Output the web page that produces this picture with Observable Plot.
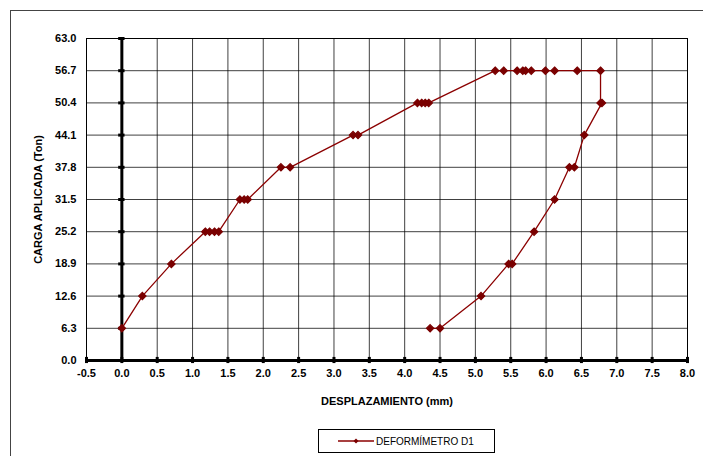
<!DOCTYPE html>
<html>
<head>
<meta charset="utf-8">
<script src="https://cdn.jsdelivr.net/npm/d3@7"></script>
<script src="https://cdn.jsdelivr.net/npm/@observablehq/plot@0.6"></script>
<style>
  html, body { margin: 0; padding: 0; background: #fff; }
  #wrap { position: relative; width: 703px; height: 456px; overflow: hidden; }
  #chart { position: absolute; left: 0; top: 0; }
  #frameline { position: absolute; left: 10px; top: 10px; width: 900px; height: 900px;
    border-left: 1px solid #444; border-top: 1px solid #444; }
  #legend { position: absolute; left: 318px; top: 429px; width: 175px; height: 22px;
    border: 1px solid #000; background: #fff; font: 10px "Liberation Sans", Arial, sans-serif;
    display: flex; align-items: center; }
  #legend svg { margin-left: 19px; margin-right: 2px; }
</style>
</head>
<body>
<div id="wrap">
  <div id="frameline"></div>
  <div id="chart"></div>
  <div id="legend"></div>
</div>
<script>
const seriesName = "DEFORMÍMETRO D1";
const displacement = [0.00, 0.29, 0.70, 1.18, 1.24, 1.31, 1.37, 1.67, 1.73, 1.78, 2.25, 2.38, 3.27, 3.34,
  4.18, 4.24, 4.29, 4.34, 5.28, 5.40, 5.59, 5.67, 5.71, 5.79, 5.99, 6.12, 6.44, 6.77,
  6.77, 6.79, 6.54, 6.40, 6.33, 6.12, 5.83, 5.52, 5.47, 5.08, 4.50, 4.36];
const load = [6.3, 12.6, 18.9, 25.2, 25.2, 25.2, 25.2, 31.5, 31.5, 31.5, 37.8, 37.8, 44.1, 44.1,
  50.4, 50.4, 50.4, 50.4, 56.7, 56.7, 56.7, 56.7, 56.7, 56.7, 56.7, 56.7, 56.7, 56.7,
  50.4, 50.4, 44.1, 37.8, 37.8, 31.5, 25.2, 18.9, 18.9, 12.6, 6.3, 6.3];
const xTicks = [-0.5, 0.0, 0.5, 1.0, 1.5, 2.0, 2.5, 3.0, 3.5, 4.0, 4.5, 5.0, 5.5, 6.0, 6.5, 7.0, 7.5, 8.0];
const yTicks = [0.0, 6.3, 12.6, 18.9, 25.2, 31.5, 37.8, 44.1, 50.4, 56.7, 63.0];

const data = displacement.map((x, i) => ({x, y: load[i]}));
const lineColor = "#8b0000";
const dotColor = "#7a0000";

const chart = Plot.plot({
  width: 703,
  height: 456,
  marginLeft: 86,
  marginRight: 16,
  marginTop: 38,
  marginBottom: 96,
  x: {domain: [-0.5, 8.0]},
  y: {domain: [0, 63]},
  style: {fontFamily: "'Liberation Sans', Arial, sans-serif", fontSize: "11px", fontWeight: "bold", background: "transparent", color: "#000"},
  marks: [
    Plot.gridX(xTicks, {stroke: "#000", strokeOpacity: 0.75, strokeWidth: 1}),
    Plot.gridY(yTicks, {stroke: "#000", strokeOpacity: 0.75, strokeWidth: 1}),
    Plot.frame({stroke: "#000"}),
    Plot.ruleY([0], {stroke: "#000", strokeWidth: 3}),
    Plot.ruleX([0], {stroke: "#000", strokeWidth: 3}),
    Plot.ruleX(xTicks, {x: d => d, y1: -0.6, y2: 0.6, stroke: "#000", strokeWidth: 3}),
    Plot.ruleY(yTicks, {y: d => d, x1: -0.045, x2: 0.045, stroke: "#000", strokeWidth: 3}),
    Plot.line(data, {x: "x", y: "y", stroke: lineColor, strokeWidth: 1.3}),
    Plot.dot(data, {x: "x", y: "y", symbol: "diamond2", r: 3.3, fill: dotColor, stroke: dotColor, strokeWidth: 1.2}),
    Plot.axisX({ticks: xTicks, tickSize: 0, tickPadding: 9, tickFormat: d => d.toFixed(1),
      label: "DESPLAZAMIENTO (mm)", labelAnchor: "center", labelArrow: "none", labelOffset: 44}),
    Plot.axisY({ticks: yTicks, tickSize: 0, tickPadding: 10, tickFormat: d => d.toFixed(1),
      label: "CARGA APLICADA (Ton)", labelAnchor: "center", labelArrow: "none", labelOffset: 52})
  ]
});
document.getElementById("chart").appendChild(chart);

const legend = document.getElementById("legend");
legend.innerHTML = `<svg width="36" height="10"><line x1="0" y1="5" x2="36" y2="5" stroke="${lineColor}" stroke-width="1.3"/><path d="M18,2.5 L20.5,5 L18,7.5 L15.5,5 Z" fill="${dotColor}"/></svg><span>${seriesName}</span>`;
</script>
</body>
</html>
